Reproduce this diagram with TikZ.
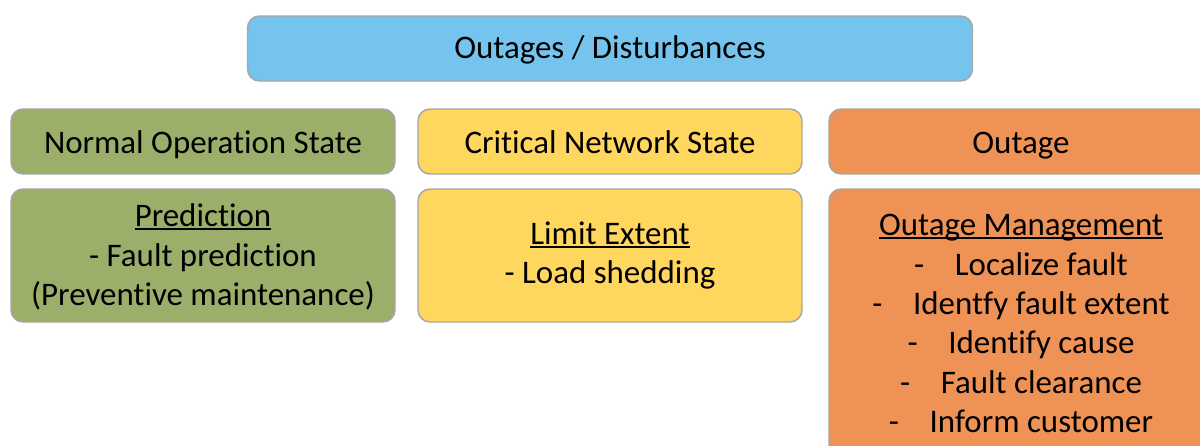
\documentclass[tikz,border=0pt]{standalone}
\usepackage{fontspec}
\setmainfont[Ligatures=NoCommon]{Carlito}
\definecolor{cblue}{HTML}{75C4EE}
\definecolor{cgreen}{HTML}{9BAF6B}
\definecolor{cyellow}{HTML}{FFD75E}
\definecolor{corange}{HTML}{EF9255}
\definecolor{cborder}{HTML}{A6A6A6}
\newcommand{\dashitem}[1]{-\hspace{23pt}#1}
\newcommand{\myul}[1]{\setbox0\hbox{#1}\rlap{\rule[-2.4pt]{\wd0}{1.3pt}}\box0}
\begin{document}
\begin{tikzpicture}[x=0.75pt,y=-0.75pt,
  box/.style={draw=cborder,line width=1.1pt,rounded corners=9pt,inner sep=0pt,
    minimum width=#1*0.75pt},
  rowA/.style={minimum height=65*0.75pt},
  rowB/.style={minimum height=133*0.75pt},
  txt/.style={font=\fontsize{24.7}{29.6}\selectfont,text=black,inner sep=0pt,anchor=base}]
\useasboundingbox (0,0) rectangle (1200,446);
\clip (0,0) rectangle (1200,446);
\node[box=725,rowA,fill=cblue] (top) at (610,48.5) {};
\node[txt] (toptxt) at (610,58.3) {Outages / Disturbances};

\node[box=384,rowA,fill=cgreen] (n1) at (203,141.5) {};
\node[txt] (n1t) at (203,153) {Normal Operation State};
\node[box=384,rowA,fill=cyellow] (n2) at (610,141.5) {};
\node[txt] (n2t) at (610,153) {Critical Network State};
\node[box=384,rowA,fill=corange] (n3) at (1021,141.5) {};
\node[txt] (n3t) at (1021,153) {Outage};

\node[box=384,rowB,fill=cgreen] (m1) at (203,255.5) {};
\node[txt] (m1a) at (203,226.7) {\myul{Prediction}};
\node[txt] (m1b) at (203,266) {- Fault prediction};
\node[txt] (m1c) at (203,305.4) {(Preventive maintenance)};

\node[box=384,rowB,fill=cyellow] (m2) at (610,255.5) {};
\node[txt] (m2a) at (610,244.3) {\myul{Limit Extent}};
\node[txt] (m2b) at (610,283.5) {- Load shedding};

\node[box=384,minimum height=290*0.75pt,fill=corange] (m3) at (1021,334) {};
\node[txt] (m3a) at (1021,235.5) {\myul{Outage Management}};
\node[txt] (m3b) at (1021,275) {\dashitem{Localize fault}};
\node[txt] (m3c) at (1021,314.4) {\dashitem{Identfy fault extent}};
\node[txt] (m3d) at (1021,353.7) {\dashitem{Identify cause}};
\node[txt] (m3e) at (1021,393.1) {\dashitem{Fault clearance}};
\node[txt] (m3f) at (1021,432.5) {\dashitem{Inform customer}};
\end{tikzpicture}
\end{document}
